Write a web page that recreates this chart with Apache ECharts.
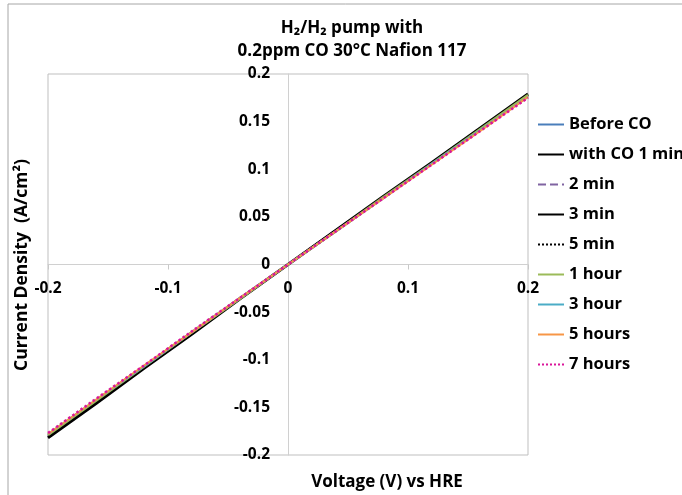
<!DOCTYPE html>
<html>
<head>
<meta charset="utf-8">
<title>H2/H2 pump with 0.2ppm CO</title>
<script src="https://cdn.jsdelivr.net/npm/echarts@6/dist/echarts.min.js"></script>
<style>
  html, body { margin: 0; padding: 0; background: #fff; }
  #chart { width: 682px; height: 495px; }
</style>
</head>
<body>
<div id="chart"></div>
<script>
// voltage (V) vs HRE
var voltage = [-0.2, -0.16, -0.12, -0.08, -0.04, 0, 0.04, 0.08, 0.12, 0.16, 0.2]

// current density (A/cm2) for each run
var beforeCO = [-0.179, -0.143, -0.107, -0.071, -0.035, 0, 0.035, 0.071, 0.106, 0.141, 0.177]
var withCO1min = [-0.181, -0.145, -0.108, -0.072, -0.036, 0, 0.036, 0.071, 0.107, 0.142, 0.178]
var min2 = [-0.180, -0.144, -0.108, -0.072, -0.036, 0, 0.036, 0.071, 0.106, 0.142, 0.177]
var min3 = [-0.182, -0.146, -0.109, -0.073, -0.036, 0, 0.036, 0.072, 0.107, 0.143, 0.179]
var min5 = [-0.180, -0.144, -0.108, -0.072, -0.036, 0, 0.036, 0.071, 0.107, 0.142, 0.178]
var hour1 = [-0.179, -0.143, -0.107, -0.071, -0.036, 0, 0.035, 0.071, 0.106, 0.142, 0.178]
var hour3 = [-0.178, -0.142, -0.107, -0.071, -0.035, 0, 0.035, 0.070, 0.106, 0.141, 0.176]
var hours5 = [-0.178, -0.142, -0.106, -0.071, -0.035, 0, 0.035, 0.070, 0.105, 0.140, 0.176]
var hours7 = [-0.177, -0.141, -0.106, -0.070, -0.035, 0, 0.035, 0.070, 0.105, 0.140, 0.175]

var seriesNames = ['Before CO', 'with CO 1 min', '2 min', '3 min', '5 min', '1 hour', '3 hour', '5 hours', '7 hours']

function pairs(ys) {
  return voltage.map(function (v, i) { return [v, ys[i]] })
}

function line(name, ys, color, width, type) {
  return {
    name: name,
    type: 'line',
    data: pairs(ys),
    symbol: 'none',
    animation: false,
    itemStyle: { color: color },
    lineStyle: { color: color, width: width, type: type || 'solid' }
  }
}

var font = '"Open Sans", Lato, sans-serif'

// plot box, axes cross at 0 in the middle of it
var gridLeft = 48, gridTop = 74, gridW = 480, gridH = 381

var chart = echarts.init(document.getElementById('chart'))
chart.setOption({
  backgroundColor: '#fff',
  textStyle: { fontFamily: font },
  title: {
    text: 'H\u2082/H\u2082 pump with\n0.2ppm CO 30\u00b0C Nafion 117',
    left: 347,
    top: 12,
    textAlign: 'center',
    textStyle: { fontFamily: font, fontSize: 17, fontWeight: 'bold', color: '#000', lineHeight: 23 }
  },
  legend: {
    data: seriesNames,
    orient: 'vertical',
    left: 537,
    top: 116,
    padding: 0,
    itemWidth: 26,
    itemHeight: 14,
    itemGap: 13,
    itemStyle: { opacity: 0 },
    textStyle: { fontFamily: font, fontSize: 16.5, fontWeight: 'bold', color: '#000' }
  },
  grid: {
    left: gridLeft,
    top: gridTop,
    width: gridW,
    height: gridH,
    show: true,
    borderColor: '#bfbfbf',
    borderWidth: 1
  },
  xAxis: {
    type: 'value',
    min: -0.2,
    max: 0.2,
    interval: 0.1,
    position: 'bottom',
    offset: -gridH / 2,
    axisLine: { onZero: false, lineStyle: { color: '#d0d0d0', width: 1 } },
    axisTick: { show: true, length: 5, lineStyle: { color: '#c8c8c8' } },
    axisLabel: { margin: 16, fontFamily: font, fontSize: 15.5, fontWeight: 'bold', color: '#000' },
    splitLine: { show: false }
  },
  yAxis: {
    type: 'value',
    min: -0.2,
    max: 0.2,
    interval: 0.05,
    position: 'left',
    offset: -gridW / 2,
    axisLine: { onZero: false, lineStyle: { color: '#d0d0d0', width: 1 } },
    axisTick: { show: false },
    axisLabel: { margin: 18, fontFamily: font, fontSize: 15.5, fontWeight: 'bold', color: '#000' },
    splitLine: { show: false }
  },
  graphic: [
    {
      type: 'rect',
      shape: { x: 8, y: 4, width: 720, height: 540 },
      style: { fill: 'none', stroke: '#a6a6a6', lineWidth: 1 },
      silent: true
    },
    {
      type: 'text',
      x: 387,
      y: 482,
      style: {
        text: 'Voltage (V) vs HRE',
        font: 'bold 17px ' + font,
        fill: '#000',
        textAlign: 'center',
        textVerticalAlign: 'middle'
      }
    },
    {
      type: 'text',
      x: 22,
      y: 265,
      rotation: Math.PI / 2,
      style: {
        text: 'Current Density  (A/cm\u00b2)',
        font: 'bold 17.5px ' + font,
        fill: '#000',
        textAlign: 'center',
        textVerticalAlign: 'middle'
      }
    }
  ],
  series: [
    line('Before CO', beforeCO, '#4a7ebb', 2),
    line('with CO 1 min', withCO1min, '#000000', 2),
    line('2 min', min2, '#8064a2', 2, 'dashed'),
    line('3 min', min3, '#000000', 3),
    line('5 min', min5, '#000000', 1, 'dotted'),
    line('1 hour', hour1, '#9bbb59', 2.5),
    line('3 hour', hour3, '#4bacc6', 2),
    line('5 hours', hours5, '#f79646', 2),
    line('7 hours', hours7, '#d9169a', 2.5, 'dotted')
  ]
})
</script>
</body>
</html>
